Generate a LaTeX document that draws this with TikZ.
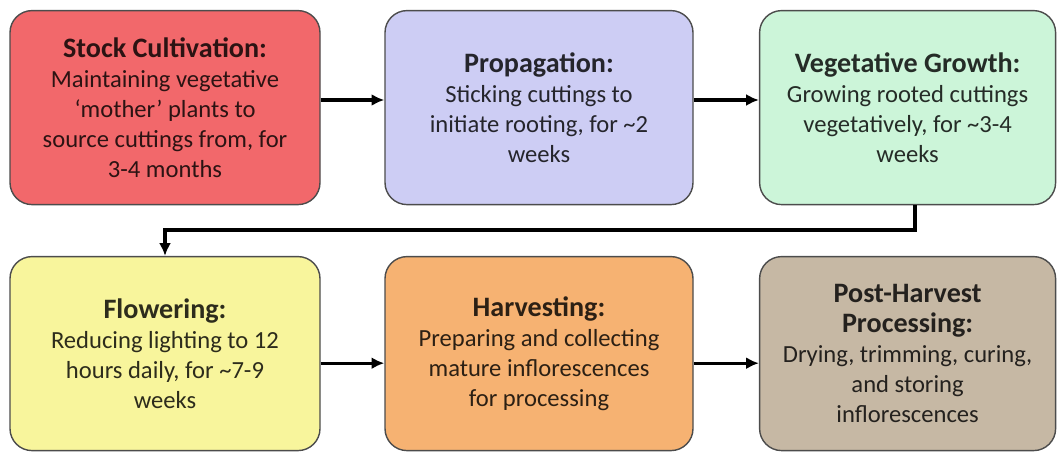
\documentclass[tikz,border=0pt]{standalone}
\usepackage{fontspec}
\setmainfont{Carlito}
\usepackage{xcolor}
\usetikzlibrary{arrows.meta}
\definecolor{stockred}{HTML}{F2686B}
\definecolor{propblue}{HTML}{CDCDF4}
\definecolor{veggreen}{HTML}{CCF5D9}
\definecolor{flowyellow}{HTML}{F8F59C}
\definecolor{harvorange}{HTML}{F6B272}
\definecolor{posttan}{HTML}{C6B8A4}
\newcommand{\stagetitle}[1]{{\fontsize{20}{23}\selectfont\bfseries #1}}

\begin{document}
\begin{tikzpicture}[
	stage/.style={draw=black!70, line width=1pt, rounded corners=0.55cm,
		align=center, inner sep=0pt, minimum height=4.85cm,
		font=\fontsize{17.5}{21.3}\selectfont},
	arr/.style={line width=2.4pt, -{Latex[length=3.2mm,width=3mm]}}]
%  (stock) --> (prop) --> (veg)
%                           |
%     .---------------------'
%     v
%  (flow)  --> (harv) --> (post)

	\useasboundingbox (0,0) rectangle (26.5,-11.325);

	\node[stage, fill=stockred, text=stockred!18!black, minimum width=7.75cm] (stock) at (4.125,-2.69)
		{\stagetitle{Stock Cultivation:}\\ Maintaining vegetative\\ ‘mother’ plants to\\ source cuttings from, for\\ 3-4 months};
	\node[stage, fill=propblue, text=propblue!18!black, minimum width=7.7cm] (prop) at (13.475,-2.69)
		{\stagetitle{Propagation:}\\ Sticking cuttings to\\ initiate rooting, for \textasciitilde 2\\ weeks};
	\node[stage, fill=veggreen, text=veggreen!18!black, minimum width=7.4cm] (veg) at (22.69,-2.69)
		{\stagetitle{Vegetative Growth:}\\ Growing rooted cuttings\\ vegetatively, for \textasciitilde 3-4\\ weeks};

	\node[stage, fill=flowyellow, text=flowyellow!18!black, minimum width=7.75cm] (flow) at (4.125,-8.84)
		{\stagetitle{Flowering:}\\ Reducing lighting to 12\\ hours daily, for \textasciitilde 7-9\\ weeks};
	\node[stage, fill=harvorange, text=harvorange!18!black, minimum width=7.7cm] (harv) at (13.475,-8.84)
		{\stagetitle{Harvesting:}\\ Preparing and collecting\\ mature inflorescences\\ for processing};
	\node[stage, fill=posttan, text=posttan!18!black, minimum width=7.4cm] (post) at (22.69,-8.84)
		{\stagetitle{Post-Harvest}\\ \stagetitle{Processing:}\\ Drying, trimming, curing,\\ and storing\\ inflorescences};

	\coordinate (turn) at (22.875,-5.75);

	\draw[arr] ([yshift=.19cm]stock.east) -- ([yshift=.19cm]prop.west);
	\draw[arr] ([yshift=.19cm]prop.east) -- ([yshift=.19cm]veg.west);
	\draw[arr] (veg.south -| turn) -- (turn) -| (flow.north);
	\draw[arr] ([yshift=-.24cm]flow.east) -- ([yshift=-.24cm]harv.west);
	\draw[arr] ([yshift=-.24cm]harv.east) -- ([yshift=-.24cm]post.west);

\end{tikzpicture}
\end{document}
